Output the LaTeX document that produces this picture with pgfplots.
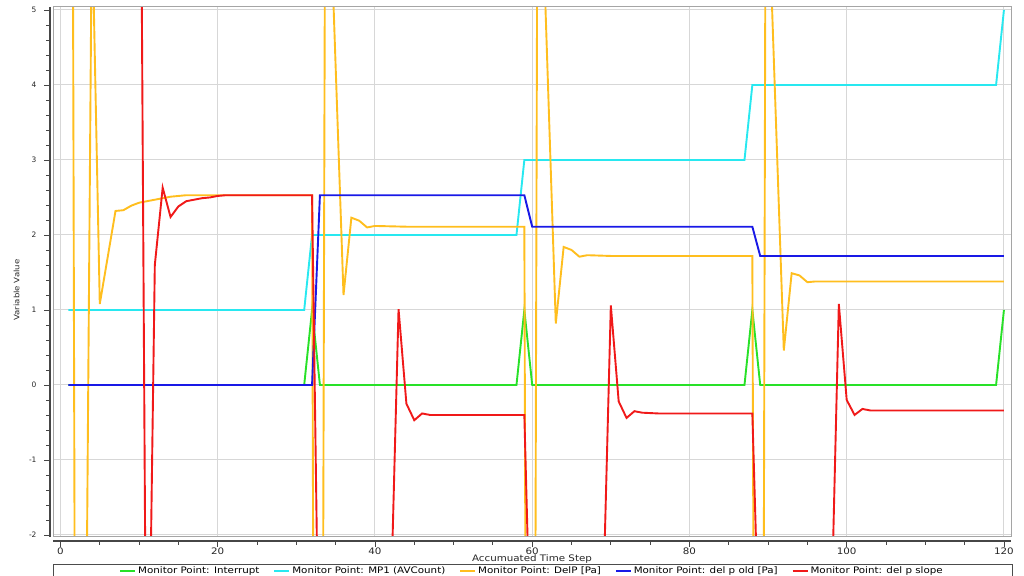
\documentclass[border=0pt]{standalone}
\usepackage{pgfplots}
\pgfplotsset{compat=1.18}
\usepackage{fontspec}
\setmainfont{DejaVu Sans}
\newfontfamily\wide{DejaVu Sans}[FakeStretch=1.15]
\definecolor{cGreen}{RGB}{40,225,40}
\definecolor{cCyan}{RGB}{40,232,240}
\definecolor{cOrange}{RGB}{255,190,30}
\definecolor{cBlue}{RGB}{25,25,230}
\definecolor{cRed}{RGB}{240,25,25}
\definecolor{cGrid}{RGB}{215,215,215}
\definecolor{cFrame}{RGB}{165,165,165}
\definecolor{cAxis}{RGB}{70,70,70}
\begin{document}
\begin{tikzpicture}[x=1bp,y=1bp]
\useasboundingbox (0,0) rectangle (1024,576);
\begin{axis}[
  at={(53bp,39bp)}, anchor=south west,
  scale only axis, width=958bp, height=530bp,
  xmin=-0.95, xmax=120.9, ymin=-2.027, ymax=5.04,
  axis x line*=bottom, axis y line*=left,
  axis x line shift=4bp, axis y line shift=3bp,
  axis line style={draw=cAxis, line width=1.1bp, -},
  xtick={0,20,...,120}, ytick={-2,...,5},
  xticklabels={0,20,40,60,80,100,120},
  yticklabels={-2,-1,0,1,2,3,4,5},
  minor x tick num=3, minor y tick num=4,
  tick align=outside, major tick length=6bp, minor tick length=4bp,
  tick style={draw=cAxis, line width=0.8bp},
  xticklabel style={font=\wide\fontsize{9}{10}\selectfont, text=black!85, yshift=3bp},
  yticklabel style={font=\fontsize{7.5}{9}\selectfont, text=black!85, xshift=-4bp},
  grid=major, major grid style={line width=1bp, draw=cGrid},
  minor grid style={draw=none},
  xlabel={Accumuated Time Step},
  xlabel style={at={(axis description cs:0.5,-0.041)}, anchor=center, font=\wide\fontsize{9}{10}\selectfont, text=black!85},
  ylabel={Variable Value},
  ylabel style={at={(axis description cs:-0.038,0.466)}, anchor=center, rotate=0, font=\wide\fontsize{7.5}{8}\selectfont, text=black!85},
  legend columns=5,
  legend style={at={(0.5,-0.064)}, anchor=center, draw=none, fill=none,
    font=\wide\fontsize{9}{10}\selectfont,
    /tikz/every even column/.append style={column sep=12bp}},
  legend image code/.code={\draw[#1] (0bp,0bp) -- (15bp,0bp);},
  every axis plot/.append style={line width=1.9bp, line join=miter},
  after end axis/.code={
    \draw[cFrame, line width=1bp] (rel axis cs:0,0) rectangle (rel axis cs:1,1);
    \draw[black!70, line width=1bp] (rel axis cs:0,-0.0528) rectangle (rel axis cs:1.002,-0.095);
  },
]
\addplot[cGreen] coordinates {(1,0) (31,0) (32,1) (33,0) (58,0) (59,1) (60,0) (87,0) (88,1) (89,0) (119,0) (120,1)};
\addlegendentry{Monitor Point: Interrupt}
\addplot[cCyan] coordinates {(1,1) (31,1) (32,2) (58,2) (59,3) (87,3) (88,4) (119,4) (120,5)};
\addlegendentry{Monitor Point: MP1 (AVCount)}
\addplot[cOrange] coordinates {
(1,28) (2,-10) (3,-7.2) (4,6.3) (5,1.08) (6,1.70) (7,2.32) (8,2.33) (9,2.39) (10,2.43) (11,2.45) (12,2.47) (13,2.49) (14,2.51) (15,2.52) (16,2.53) (32,2.53)
(32.8,-25) (33.7,8.2) (36,1.20) (37,2.23) (38,2.19) (39,2.10) (40,2.12) (44,2.11) (59,2.11)
(59.8,-25) (60.7,8.2) (63,0.82) (64,1.84) (65,1.80) (66,1.71) (67,1.73) (70,1.72) (88,1.72)
(88.9,-25) (89.7,7.5) (92,0.46) (93,1.49) (94,1.46) (95,1.37) (96,1.38) (120,1.38)};
\addlegendentry{Monitor Point: DelP [Pa]}
\addplot[cBlue] coordinates {(1,0) (32,0) (33,2.53) (59,2.53) (60,2.11) (88,2.11) (89,1.72) (120,1.72)};
\addlegendentry{Monitor Point: del p old [Pa]}
\addplot[cRed] coordinates {
(10,11) (11,-6) (12,1.60) (13,2.63) (14,2.24) (15,2.38) (16,2.45) (17,2.47) (18,2.49) (19,2.50) (20,2.52) (21,2.53) (32,2.53)
(33,-5) (42,-3) (43,1.01) (44,-0.25) (45,-0.47) (46,-0.38) (47,-0.40) (59,-0.40)
(60,-4.4) (69,-3) (70,1.06) (71,-0.22) (72,-0.44) (73,-0.35) (74,-0.37) (76,-0.38) (88,-0.38)
(89,-4) (98,-3.3) (99,1.08) (100,-0.20) (101,-0.40) (102,-0.32) (103,-0.34) (120,-0.34)};
\addlegendentry{Monitor Point: del p slope}
\end{axis}
\end{tikzpicture}
\end{document}
